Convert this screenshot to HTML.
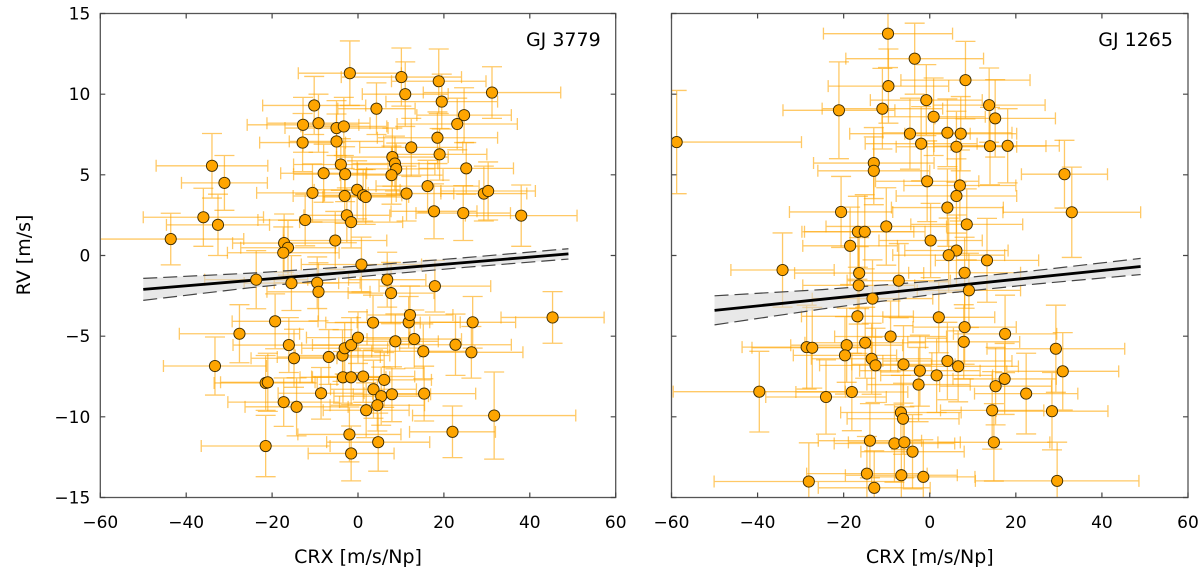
<!DOCTYPE html>
<html><head><meta charset="utf-8">
<style>
html,body{margin:0;padding:0;background:#fff;}
svg{display:block;font-family:"DejaVu Sans","Liberation Sans",sans-serif;}
</style></head>
<body>
<svg id="chart" width="1200" height="574" viewBox="0 0 1200 574" xmlns="http://www.w3.org/2000/svg"></svg>
<script>
// ---------- Data: GJ 3779 ----------
const crxA = [-1.9,10.1,18.8,11.0,31.2,19.5,-10.2,4.3,24.7,23.1,-12.8,-9.2,-5.0,-3.3,-12.9,-5.0,18.5,12.4,19.0,8.0,8.6,8.9,7.8,25.2,-34.0,-31.1,-8.0,-4.0,-3.0,-10.6,-3.1,-0.2,1.2,1.8,11.3,16.2,29.3,30.3,-36.0,-32.6,-12.3,-2.6,-1.6,17.7,24.5,38.0,-43.6,-17.2,-16.3,-17.4,-5.3,0.8,-23.7,-15.5,-9.5,-9.2,6.8,7.7,17.9,-19.3,-27.6,3.5,11.8,12.1,26.7,45.3,-33.3,-16.1,-14.9,-6.8,-3.6,-3.1,-1.6,0.0,8.7,13.1,15.2,22.7,26.4,-21.5,-21.0,-3.5,-1.6,1.2,6.1,3.6,-8.6,5.4,7.9,15.4,-17.3,-14.3,1.9,4.5,31.7,-2.0,22.0,4.7,-21.5,-1.6];
const rvA = [11.3,11.06,10.8,10.0,10.1,9.54,9.3,9.1,8.7,8.15,8.1,8.2,7.9,8.0,7.0,7.07,7.3,6.7,6.27,6.1,5.7,5.37,4.98,5.4,5.56,4.5,5.1,5.64,5.04,3.88,3.69,4.07,3.73,3.63,3.84,4.3,3.84,4.0,2.37,1.9,2.2,2.49,2.07,2.74,2.63,2.47,1.02,0.77,0.48,0.17,0.93,-0.56,-1.5,-1.71,-1.69,-2.25,-1.5,-2.33,-1.9,-4.08,-4.85,-4.16,-4.14,-3.69,-4.14,-3.84,-6.85,-5.55,-6.37,-6.29,-6.2,-5.75,-5.55,-5.09,-5.32,-5.18,-5.94,-5.53,-6.0,-7.9,-7.86,-7.55,-7.55,-7.5,-7.71,-8.29,-8.54,-8.72,-8.6,-8.56,-9.09,-9.38,-9.59,-9.28,-9.92,-11.09,-10.93,-11.57,-11.81,-12.27];
const xerrA = [12,14,11,10,16,13,12,9,11,14,13,12,12,10,10,11,14,12,11,13,10,9,12,11,13,10,10,11,12,13,12,10,9,10,11,12,10,11,14,12,11,10,12,10,11,13,17,12,11,13,12,14,12,11,10,12,9,10,13,10,14,11,12,10,10,12,12,13,10,12,11,10,9,12,10,11,12,13,12,12,11,10,9,12,11,10,10,11,9,12,13,12,10,11,19,12,10,12,15,10];
const yerrA = [2.0,1.8,2.0,2.0,1.6,1.7,1.8,1.6,1.7,1.6,1.7,1.8,1.7,1.8,1.8,1.7,1.6,1.8,1.6,1.8,1.7,1.6,1.8,1.6,2.0,1.7,1.8,1.6,1.7,1.8,1.7,1.8,1.6,1.7,1.7,1.6,1.7,1.8,1.8,1.9,1.6,1.7,1.6,1.7,1.7,1.9,1.6,1.8,1.7,1.6,1.8,1.7,1.8,1.7,1.6,1.8,1.7,1.9,1.6,1.7,1.8,1.7,1.6,1.8,1.6,1.6,1.8,1.7,1.8,1.7,1.6,1.6,1.7,1.6,1.7,1.8,1.7,1.9,1.6,1.7,1.8,1.6,1.7,1.6,1.7,1.8,1.6,1.8,1.7,1.7,1.5,1.8,1.7,1.6,2.7,1.7,1.6,1.8,1.9,1.7];
const fitA = [-2.1, 0.1];            // y at x=-50 and x=49
const bandX = [-50,-25,0,25,49];
const bandOffA = [0.68,0.45,0.33,0.3,0.32];

// ---------- Data: GJ 1265 ----------
const crxB = [-9.7,-3.5,-9.6,8.3,-21.1,-11.0,-0.8,0.9,13.8,15.2,-58.8,-4.6,-2.0,4.1,7.2,6.2,14.0,18.1,-13.0,-13.0,31.3,-0.6,7.0,6.2,4.1,33.0,-20.6,-10.1,-16.7,-15.1,0.2,8.6,-18.5,6.2,4.4,13.3,-34.2,-16.4,-16.5,-7.2,8.1,9.1,-13.3,-16.8,2.1,8.1,17.5,-9.1,-28.6,-27.3,-19.3,-15.0,-19.7,7.9,29.3,-13.5,-12.6,-6.1,-2.3,1.6,4.1,6.6,30.9,-2.6,17.4,15.3,22.4,-39.6,-24.1,-18.1,-6.7,-6.2,14.5,28.4,-13.9,-8.2,-5.9,-4.0,14.9,-14.6,-6.6,-1.5,-28.1,-12.9,29.6];
const rvB = [13.75,12.2,10.5,10.87,9.0,9.1,9.63,8.6,9.32,8.5,7.03,7.55,6.93,7.61,7.55,6.74,6.78,6.8,5.73,5.25,5.04,4.6,4.34,3.69,2.97,2.68,2.7,1.8,1.47,1.47,0.93,1.93,0.6,0.31,0.02,-0.3,-0.9,-1.09,-1.85,-1.56,-1.07,-2.16,-2.67,-3.77,-3.83,-4.44,-4.86,-5.02,-5.68,-5.72,-5.56,-5.41,-6.19,-5.35,-5.78,-6.4,-6.81,-6.75,-7.14,-7.43,-6.54,-6.87,-7.18,-8.0,-7.65,-8.1,-8.56,-8.44,-8.77,-8.46,-9.73,-10.12,-9.6,-9.65,-11.48,-11.65,-11.58,-12.16,-11.58,-13.52,-13.62,-13.72,-14.01,-14.4,-13.97];
const xerrB = [15,16,14,15,13,14,13,12,13,14,29,14,13,15,13,14,13,12,14,13,10,12,13,14,13,16,12,14,13,14,12,13,11,12,13,12,12,15,13,12,13,12,14,13,13,12,12,13,15,14,13,14,12,13,16,14,13,12,14,13,15,14,13,12,12,13,12,20,14,13,14,13,12,13,12,14,13,12,13,14,13,12,22,13,19];
const yerrB = [2.1,2.2,2.3,2.4,3.0,2.5,2.2,2.4,2.3,2.4,3.2,2.2,2.3,2.1,2.3,2.2,2.4,2.3,2.2,2.1,2.1,2.5,2.2,2.3,2.4,2.8,2.2,2.4,2.2,2.3,2.3,2.2,2.4,2.2,2.3,2.6,2.3,2.2,2.4,2.3,2.2,2.3,2.4,2.3,2.2,2.3,2.4,2.2,2.6,2.5,2.3,2.2,2.4,2.3,2.7,2.2,2.3,2.4,2.2,2.3,2.4,2.2,2.4,2.3,2.2,2.4,2.5,2.5,2.3,2.4,2.3,2.2,2.4,2.4,2.3,2.4,2.2,2.3,2.4,2.3,2.2,2.3,2.4,2.3,2.4];
const fitB = [-3.4, -0.68];
const bandOffB = [0.9,0.6,0.42,0.42,0.5];

const xTicks = [-60,-40,-20,0,20,40,60];
const yTicks = [15,10,5,0,-5,-10,-15];

const NS = "http://www.w3.org/2000/svg";
const svg = document.getElementById('chart');
const TOP = 13.5, BOT = 497.5;
function mk(tag, attrs, parent){const e=document.createElementNS(NS,tag);for(const k in attrs)e.setAttribute(k,attrs[k]);(parent||svg).appendChild(e);return e;}
function lbl(s){return s<0?'\u2212'+Math.abs(s):String(s);}

function panel(L, R, xs, ys, xe, ye, fit, bandOff, title, showY, key){
  const sx = v => L + (v+60)/120*(R-L);
  const sy = v => TOP + (15-v)/30*(BOT-TOP);
  const g = mk('g',{});
  
  
  const clipId='clip-'+key;
  const cp=mk('clipPath',{id:clipId},g); mk('rect',{x:L,y:TOP,width:R-L,height:BOT-TOP},cp);
  const plot = mk('g',{'clip-path':'url(#'+clipId+')'},g);
  // error bars
  const eb = mk('g',{stroke:'#FFA500','stroke-opacity':0.6,'stroke-width':1.3,fill:'none'},plot);
  
  
  for(let i=0;i<xs.length;i++){
    const x=sx(xs[i]), y=sy(ys[i]);
    const x1=sx(xs[i]-xe[i]), x2=sx(xs[i]+xe[i]);
    const y1=sy(ys[i]+ye[i]), y2=sy(ys[i]-ye[i]);
    mk('path',{d:`M${x1},${y}H${x2}M${x},${y1}V${y2}M${x1},${y-6}V${y+6}M${x2},${y-6}V${y+6}M${x-10},${y1}H${x+10}M${x-10},${y2}H${x+10}`},eb);
  }
  // band + fit
  const f = v => fit[0] + (fit[1]-fit[0])*(v+50)/99;
  let up='',lo='';
  bandX.forEach((bx,i)=>{up+=(i?'L':'M')+sx(bx)+','+sy(f(bx)+bandOff[i]);});
  for(let i=bandX.length-1;i>=0;i--){lo+='L'+sx(bandX[i])+','+sy(f(bandX[i])-bandOff[i]);}
  const band=mk('path',{d:up+lo+'Z',fill:'#d8d8d8','fill-opacity':0.6,stroke:'none'},plot);
  
  
  let lo2='';
  bandX.forEach((bx,i)=>{lo2+=(i?'L':'M')+sx(bx)+','+sy(f(bx)-bandOff[i]);});
  const d1=mk('path',{d:up,fill:'none',stroke:'#444','stroke-width':1.2,'stroke-dasharray':'14,6'},plot);
  
  
  const d2=mk('path',{d:lo2,fill:'none',stroke:'#444','stroke-width':1.2,'stroke-dasharray':'14,6'},plot);
  
  
  const fl=mk('line',{x1:sx(-50),y1:sy(fit[0]),x2:sx(49),y2:sy(fit[1]),stroke:'#000','stroke-width':2.8},plot);
  
  
  // points
  for(let i=0;i<xs.length;i++){
    const c=mk('circle',{cx:sx(xs[i]),cy:sy(ys[i]),r:5.6,fill:'#FFA500',stroke:'#3a2a00','stroke-width':0.9},plot);
    
    
  }
  // frame
  const fr=mk('rect',{x:L,y:TOP,width:R-L,height:BOT-TOP,fill:'none',stroke:'#555','stroke-width':1.3},g);
  
  
  // ticks
  xTicks.forEach(t=>{
    const x=sx(t);
    mk('path',{d:`M${x},${BOT}V${BOT-5}M${x},${TOP}V${TOP+5}`,stroke:'#444','stroke-width':1.2},g);
    const tx=mk('text',{x:x,y:528,'text-anchor':'middle','font-size':17,fill:'#000'},g);
    tx.textContent=lbl(t);
    
    
  });
  yTicks.forEach(t=>{
    const y=sy(t);
    mk('path',{d:`M${L},${y}H${L+5}M${R},${y}H${R-5}`,stroke:'#444','stroke-width':1.2},g);
    if(showY){
      const ty=mk('text',{x:L-10,y:y+6,'text-anchor':'end','font-size':17,fill:'#000'},g);
      ty.textContent=lbl(t);
      
      
    }
  });
  const xt=mk('text',{x:(L+R)/2,y:563,'text-anchor':'middle','font-size':19,fill:'#000'},g);
  xt.textContent='CRX [m/s/Np]';
  
  
  const tt=mk('text',{x:R-15,y:46,'text-anchor':'end','font-size':19,fill:'#000'},g);
  tt.textContent=title;
  
  
}

panel(100.3, 615.7, crxA, rvA, xerrA, yerrA, fitA, bandOffA, 'GJ 3779', true, 'gj3779');
panel(671.5, 1188, crxB, rvB, xerrB, yerrB, fitB, bandOffB, 'GJ 1265', false, 'gj1265');

const yl = mk('text',{x:0,y:0,'text-anchor':'middle','font-size':19,fill:'#000',transform:'translate(30,255) rotate(-90)'});
yl.textContent='RV [m/s]';


</script>
</body></html>
